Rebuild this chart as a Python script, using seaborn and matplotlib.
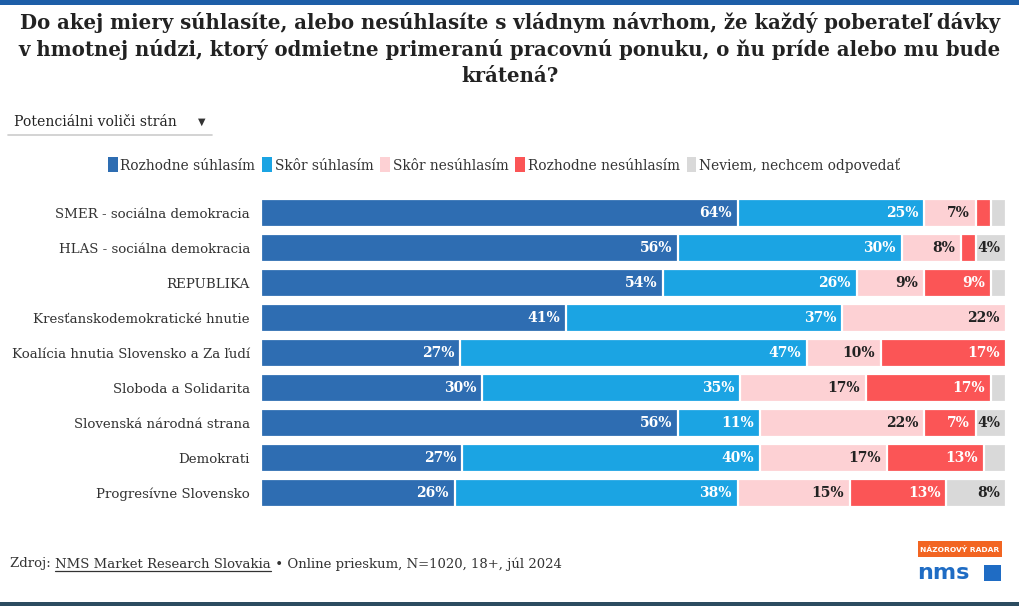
import matplotlib
matplotlib.use("Agg")
import matplotlib.pyplot as plt
import seaborn as sns
import numpy as np
import pandas as pd
from matplotlib.patches import Rectangle, Patch

# ---------------- data ----------------
parties = [
    "SMER - sociálna demokracia",
    "HLAS - sociálna demokracia",
    "REPUBLIKA",
    "Kresťanskodemokratické hnutie",
    "Koalícia hnutia Slovensko a Za ľudí",
    "Sloboda a Solidarita",
    "Slovenská národná strana",
    "Demokrati",
    "Progresívne Slovensko",
]
rozhodne_suhlasim = [64, 56, 54, 41, 27, 30, 56, 27, 26]
skor_suhlasim = [25, 30, 26, 37, 47, 35, 11, 40, 38]
skor_nesuhlasim = [7, 8, 9, 22, 10, 17, 22, 17, 15]
rozhodne_nesuhlasim = [2, 2, 9, 0, 17, 17, 7, 13, 13]
neviem = [2, 4, 2, 0, 0, 2, 4, 3, 8]
series_names = ["Rozhodne súhlasím", "Skôr súhlasím", "Skôr nesúhlasím",
                "Rozhodne nesúhlasím", "Neviem, nechcem odpovedať"]

colors = ["#2e6db2", "#1ba4e3", "#fdd1d4", "#fb5556", "#d9d9d9"]
label_colors = ["white", "white", "#222222", "white", "#222222"]

# ---------------- setup ----------------
sns.set_theme(style="white")
plt.rcParams["font.family"] = ["DejaVu Serif"]

W, H = 1020, 606
fig = plt.figure(figsize=(W / 100, H / 100), dpi=100)
fig.patch.set_facecolor("white")

def fx(px):
    return px / W

def fy(py):
    return 1 - py / H

ax = fig.add_axes([fx(261), fy(510.5), fx(1006) - fx(261), fy(195.5) - fy(510.5)])

series = [rozhodne_suhlasim, skor_suhlasim, skor_nesuhlasim, rozhodne_nesuhlasim, neviem]
vals = np.array(series, dtype=float)            # shape (5, 9)
totals = vals.sum(axis=0)
norm = vals / totals * 100
cum = np.cumsum(norm, axis=0)

df = pd.DataFrame({"party": parties})
for i in range(5):
    df[f"cum{i}"] = cum[i]

for i in reversed(range(5)):
    sns.barplot(data=df, x=f"cum{i}", y="party", order=parties, orient="h",
                color=colors[i], saturation=1, width=0.8, errorbar=None,
                edgecolor="white", linewidth=1.6, ax=ax)

ax.set_xlim(0, 100)
ax.set_ylim(8.5, -0.5)
ax.set_xlabel("")
ax.set_ylabel("")
ax.set_xticks([])
for s in ax.spines.values():
    s.set_visible(False)
ax.tick_params(axis="y", length=0, pad=8, labelsize=9.6, labelcolor="#333333")
ax.set_facecolor("white")

# value labels
for r in range(len(parties)):
    for i in range(5):
        v = vals[i, r]
        if v >= 4:
            ax.text(cum[i, r] - 0.8, r, f"{int(v)}%", ha="right", va="center",
                    fontsize=10, fontweight="bold", color=label_colors[i])

# ---------------- title ----------------
fig.text(0.5, fy(49), "Do akej miery súhlasíte, alebo nesúhlasíte s vládnym návrhom, že každý poberateľ dávky\n"
         "v hmotnej núdzi, ktorý odmietne primeranú pracovnú ponuku, o ňu príde alebo mu bude\n"
         "krátená?", ha="center", va="center", fontsize=14.2, fontweight="bold",
         color="#222222", linespacing=1.37)

# dropdown
fig.text(fx(14), fy(122), "Potenciálni voliči strán", ha="left", va="center",
         fontsize=10.1, color="#222222")
fig.text(fx(202), fy(122), "▼", ha="center", va="center", fontsize=7,
         color="#333333", family="DejaVu Sans")
fig.add_artist(plt.Line2D([fx(8), fx(212)], [fy(135), fy(135)], color="#cccccc",
                          linewidth=1.2, transform=fig.transFigure))

# legend
handles = [Patch(facecolor=c, edgecolor="none", label=n) for c, n in zip(colors, series_names)]
fig.legend(handles=handles, loc="center", bbox_to_anchor=(fx(504), fy(165)), ncol=5,
           frameon=False, handlelength=0.7, handleheight=1.3, handletextpad=0.2,
           columnspacing=0.5, fontsize=9.9, labelcolor="#333333")

# footer
fig.canvas.draw()
renderer = fig.canvas.get_renderer()
fs = 9.5
t1 = fig.text(fx(10), fy(564), "Zdroj: ", ha="left", va="center", fontsize=fs, color="#333333")
bb = t1.get_window_extent(renderer)
t2 = fig.text(bb.x1 / W, fy(564), "NMS Market Research Slovakia", ha="left", va="center",
              fontsize=fs, color="#333333")
bb2 = t2.get_window_extent(renderer)
fig.add_artist(plt.Line2D([bb2.x0 / W, bb2.x1 / W], [fy(571), fy(571)], color="#333333",
                          linewidth=0.9, transform=fig.transFigure))
fig.text(bb2.x1 / W, fy(564), " • Online prieskum, N=1020, 18+, júl 2024", ha="left",
         va="center", fontsize=fs, color="#333333")

# logo
fig.add_artist(Rectangle((fx(918), fy(557)), fx(84), 16 / H, transform=fig.transFigure,
                         facecolor="#f26522", edgecolor="none"))
fig.text(fx(960), fy(549), "NÁZOROVÝ RADAR", ha="center", va="center", fontsize=5.4,
         fontweight="bold", color="white", family="DejaVu Sans")
fig.text(fx(917), fy(573), "nms", ha="left", va="center", fontsize=16, fontweight="bold",
         color="#1f6cc4", family="DejaVu Sans")
fig.add_artist(Rectangle((fx(984), fy(581)), fx(17), 16 / H, transform=fig.transFigure,
                         facecolor="#1f6cc4", edgecolor="none"))

# decorative stripes
fig.add_artist(Rectangle((0, fy(5)), 1, 5 / H, transform=fig.transFigure,
                         facecolor="#1d5ea8", edgecolor="none"))
fig.add_artist(Rectangle((0, 0), 1, 4 / H, transform=fig.transFigure,
                         facecolor="#2c4c60", edgecolor="none"))

fig.savefig("out.png", dpi=100)
